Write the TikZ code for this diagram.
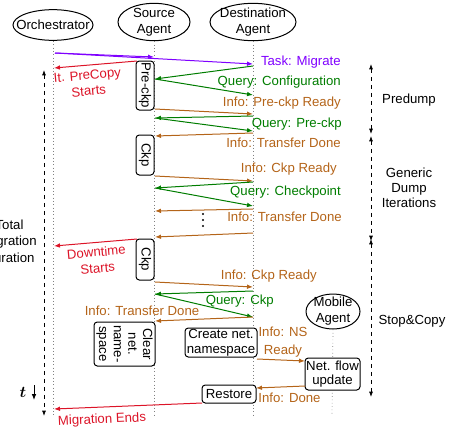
\documentclass[tikz,border=0pt]{standalone}
\usepackage{bm}
\usepackage{fontspec}
\setmainfont{Liberation Sans}
\usetikzlibrary{shapes.geometric,arrows.meta}
\definecolor{cpurple}{RGB}{127,0,255}
\definecolor{cred}{RGB}{220,20,40}
\definecolor{cgreen}{RGB}{0,125,0}
\definecolor{cbrown}{RGB}{180,100,25}
\begin{document}
\begin{tikzpicture}[x=0.75pt,y=-0.75pt,
 font=\fontsize{9.9}{12}\selectfont,
 actor/.style={ellipse,draw,line width=0.75pt,inner sep=0pt},
 life/.style={draw=gray,dotted,line width=0.5pt},
 msg/.style={line width=0.75pt,-{Latex[length=4.5pt,width=3.5pt]}},
 act/.style={draw,rounded corners=2.5pt,line width=0.75pt,inner sep=0pt,align=center},
 rot/.style={act,rotate=-90},
 dur/.style={dashed,line width=0.6pt,{Latex[length=4pt,width=3pt]}-{Latex[length=4pt,width=3pt]}},
 lbl/.style={inner sep=0pt,align=center},
]
\useasboundingbox (0,0) rectangle (452,432);
% actors
\node[actor,minimum width=60pt,minimum height=23pt,label={center:Orchestrator}] (orch) at (53,25) {};
\node[actor,minimum width=54pt,minimum height=28pt,label={[align=center]center:Source\\Agent}] (src) at (154,22) {};
\node[actor,minimum width=64.5pt,minimum height=28pt,label={[align=center]center:Destination\\Agent}] (dst) at (253,22) {};
\node[actor,minimum width=40.5pt,minimum height=26.25pt,label={[align=center]center:Mobile\\Agent}] (mob) at (333,311.5) {};
% lifelines
\coordinate (orchE) at (53,415);
\coordinate (srcE) at (154,415);
\coordinate (dstE) at (253,415);
\coordinate (mobE) at (332,415);
\draw[life] (orch.south) -- (orchE);
\draw[life] (src.south) -- (srcE);
\draw[life] (dst.south) -- (dstE);
\draw[life] (mob.south) -- (mobE);
% activation boxes
\node[rot,fill=white,minimum width=36.75pt,minimum height=13.5pt] (preckp) at (145,85.5) {Pre-ckp};
\node[rot,fill=white,minimum width=30pt,minimum height=13.5pt] (ckpA) at (145,155) {Ckp};
\node[rot,fill=white,minimum width=30.75pt,minimum height=13.5pt] (ckpB) at (145,259.5) {Ckp};
\node[rot,fill=white,minimum width=33pt,minimum height=45.75pt,font=\fontsize{9.9}{11}\selectfont] (clear) at (124.5,344) {Clear\\net.\\name-\\space};
\node[act,fill=white,minimum width=54pt,minimum height=21.75pt,font=\fontsize{9.9}{11}\selectfont] (create) at (221,342.5) {Create net.\\namespace};
\node[act,fill=white,minimum width=41.25pt,minimum height=24pt,font=\fontsize{9.9}{11}\selectfont] (netflow) at (332.5,374) {Net. flow\\update};
\node[act,fill=white,minimum width=40.5pt,minimum height=13.5pt] (restore) at (229,394) {Restore};
% message coordinates
\coordinate (p0) at (55,53); \coordinate (p1) at (154,57); \coordinate (p2) at (253,64);
\coordinate (r1a) at (137,61); \coordinate (r1b) at (54,68);
\coordinate (g1a) at (253,66); \coordinate (g1b) at (155,79); \coordinate (g1c) at (253,95);
\coordinate (b1a) at (155,109); \coordinate (b1b) at (253,114);
\coordinate (g2a) at (253,116); \coordinate (g2b) at (155,118); \coordinate (g2c) at (253,131);
\coordinate (b2a) at (253,133); \coordinate (b2b) at (155,136);
\coordinate (b3a) at (155,176); \coordinate (b3b) at (253,181);
\coordinate (g3a) at (253,182); \coordinate (g3b) at (155,188); \coordinate (g3c) at (253,206);
\coordinate (b4a) at (253,209); \coordinate (b4b) at (155,211);
\coordinate (b5a) at (253,233); \coordinate (b5b) at (155,237);
\coordinate (r2a) at (137,239); \coordinate (r2b) at (54,246);
\coordinate (b6a) at (155,282); \coordinate (b6b) at (253,287);
\coordinate (g4a) at (253,291); \coordinate (g4b) at (155,294); \coordinate (g4c) at (253,317);
\coordinate (b7a) at (253,317); \coordinate (b7b) at (155,321);
\coordinate (b8a) at (257,359); \coordinate (b8b) at (305,361);
\coordinate (b9a) at (305,386); \coordinate (b9b) at (256,388);
\coordinate (r3a) at (202,403); \coordinate (r3b) at (54,409);
% messages
\draw[msg,cpurple] (p0) -- (p1);
\draw[msg,cpurple] (p0) -- (p2);
\draw[msg,cred] (r1a) -- (r1b);
\draw[msg,cgreen] (g1a) -- (g1b);
\draw[msg,cgreen] (g1b) -- (g1c);
\draw[msg,cbrown] (b1a) -- (b1b);
\draw[msg,cgreen] (g2a) -- (g2b);
\draw[msg,cgreen] (g2b) -- (g2c);
\draw[msg,cbrown] (b2a) -- (b2b);
\draw[msg,cbrown] (b3a) -- (b3b);
\draw[msg,cgreen] (g3a) -- (g3b);
\draw[msg,cgreen] (g3b) -- (g3c);
\draw[msg,cbrown] (b4a) -- (b4b);
\draw[msg,cbrown] (b5a) -- (b5b);
\draw[msg,cred] (r2a) -- (r2b);
\draw[msg,cbrown] (b6a) -- (b6b);
\draw[msg,cgreen] (g4a) -- (g4b);
\draw[msg,cgreen] (g4b) -- (g4c);
\draw[msg,cbrown] (b7a) -- (b7b);
\draw[msg,cbrown] (b8a) -- (b8b);
\draw[msg,cbrown] (b9a) -- (b9b);
\draw[msg,cred] (r3a) -- (r3b);
% dots
\fill (203,214) circle[radius=0.9pt];
\fill (203,220) circle[radius=0.9pt];
\fill (203,226) circle[radius=0.9pt];
% message labels
\node[lbl,anchor=east,text=cpurple] (lTask) at (341,62) {Task: Migrate};
\node[lbl,anchor=east,text=cgreen] (lQC) at (341,82) {Query: Configuration};
\node[lbl,anchor=east,text=cbrown] (lPR) at (341,103) {Info: Pre-ckp Ready};
\node[lbl,anchor=east,text=cgreen] (lQP) at (342,124) {Query: Pre-ckp};
\node[lbl,anchor=east,text=cbrown] (lTD1) at (341,143) {Info: Transfer Done};
\node[lbl,anchor=east,text=cbrown] (lCR1) at (337,169) {Info: Ckp Ready};
\node[lbl,anchor=east,text=cgreen] (lQCk) at (341,192) {Query: Checkpoint};
\node[lbl,anchor=east,text=cbrown] (lTD2) at (342,217) {Info: Transfer Done};
\node[lbl,anchor=east,text=cbrown] (lCR2) at (317,276) {Info: Ckp Ready};
\node[lbl,anchor=east,text=cgreen] (lQK) at (274,301) {Query: Ckp};
\node[lbl,text=cbrown] (lTD3) at (142,311) {Info: Transfer Done};
\node[lbl,text=cbrown,font=\fontsize{9.9}{13}\selectfont] (lNS) at (283,342) {Info: NS\\Ready};
\node[lbl,text=cbrown] (lDone) at (289.5,398) {Info: Done};
\node[lbl,text=cred,rotate=5,font=\fontsize{9.9}{12}\selectfont] (lIt) at (88,83) {It. PreCopy\\Starts};
\node[lbl,text=cred,rotate=5,font=\fontsize{9.9}{12}\selectfont] (lDown) at (97,260) {Downtime\\Starts};
\node[lbl,text=cred,rotate=2.5] (lEnd) at (102,420) {Migration Ends};
% phases
\coordinate (d1a) at (371,64); \coordinate (d1b) at (371,134);
\coordinate (d2a) at (371,136); \coordinate (d2b) at (371,241);
\coordinate (d3a) at (371,239); \coordinate (d3b) at (371,397);
\draw[dur] (d1a) -- (d1b);
\draw[dur] (d2a) -- (d2b);
\draw[dur] (d3a) -- (d3b);
\node[lbl] (lPre) at (409,100) {Predump};
\node[lbl,font=\fontsize{9.9}{11.25}\selectfont] (lGen) at (409,188) {Generic\\Dump\\Iterations};
\node[lbl] (lStop) at (412,321) {Stop\&Copy};
% total duration
\coordinate (tda) at (44,70); \coordinate (tdb) at (44,416);
\draw[dur] (tda) -- (tdb);
\node[lbl,font=\fontsize{9.9}{12.5}\selectfont] (lTot) at (9.5,241) {Total\\Migration\\Duration};
% time
\node[inner sep=0pt,font=\fontsize{12}{12}\selectfont] (tsym) at (23,392) {$\bm{t}$};
\coordinate (ta) at (34,385); \coordinate (tb) at (34,400);
\draw[line width=0.75pt,-{Latex[length=4.5pt,width=3.5pt]}] (ta) -- (tb);
\end{tikzpicture}
\end{document}
